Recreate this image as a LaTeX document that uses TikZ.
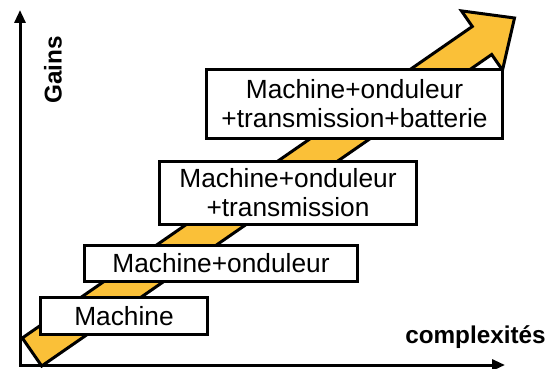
\documentclass[tikz,border=0pt]{standalone}
\usepackage{fontspec}
\setmainfont{Liberation Sans}
\usetikzlibrary{arrows.meta,positioning}
\definecolor{arrowfill}{RGB}{250,192,56}
\tikzstyle{stage} = [rectangle, draw, fill=white, line width=3pt,
    align=center, inner sep=0pt, font=\fontsize{26.3}{29}\selectfont]
\tikzstyle{axislabel} = [font=\bfseries\fontsize{24.3}{28}\selectfont, inner sep=0pt]

\begin{document}
\begin{tikzpicture}[x=1pt,y=-1pt,line join=miter]
  \useasboundingbox (0,0) rectangle (550,369);

  % axes
  \coordinate (ytop) at (20,10);
  \coordinate (xend) at (505,365);
  \draw[line width=3pt,{Triangle[length=13pt,width=11pt]}-{Triangle[length=13pt,width=11pt]}]
    (ytop) |- (xend);
  \node[axislabel,rotate=90] (gains) at (53,70) {Gains};
  \node[axislabel]           (cplx)  at (475.5,337) {complexités};

  % big arrow
  \draw[line width=3pt,fill=arrowfill]
    (22.3,338.0) -- (472.3,26.5) -- (461.5,10.9) -- (514.5,18.0)
    -- (502.5,70.1) -- (491.7,54.5) -- (41.7,366.0) -- cycle;

  % stages
  \node[stage,minimum width=167pt,minimum height=37pt] (s1) at (124,316)   {Machine};
  \node[stage,minimum width=273pt,minimum height=36pt] (s2) at (221,263.5) {Machine+onduleur};
  \node[stage,minimum width=257pt,minimum height=63pt] (s3) at (288,193)   {Machine+onduleur\\+transmission};
  \node[stage,minimum width=296pt,minimum height=69pt] (s4) at (354.5,104) {Machine+onduleur\\+transmission+batterie};
\end{tikzpicture}
\end{document}
